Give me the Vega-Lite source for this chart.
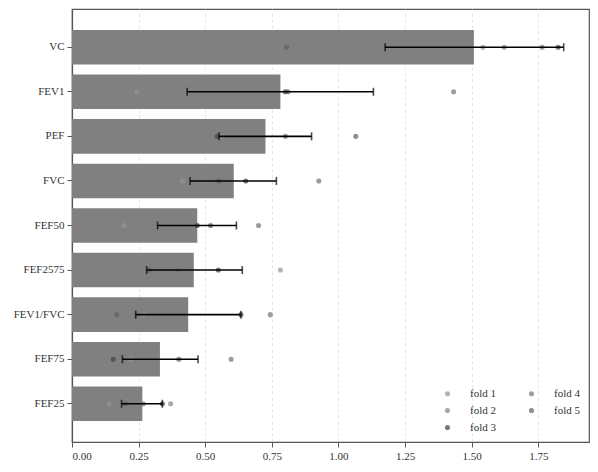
{
  "$schema": "https://vega.github.io/schema/vega-lite/v6.json",
  "width": 517,
  "height": 433,
  "autosize": "none",
  "padding": {"left": 72, "top": 9, "right": 9, "bottom": 30},
  "background": "white",
  "datasets": {
    "bars": [
      {"metric": "VC", "mean": 1.508, "lo": 1.175, "hi": 1.845},
      {"metric": "FEV1", "mean": 0.782, "lo": 0.432, "hi": 1.131},
      {"metric": "PEF", "mean": 0.726, "lo": 0.552, "hi": 0.899},
      {"metric": "FVC", "mean": 0.607, "lo": 0.443, "hi": 0.767},
      {"metric": "FEF50", "mean": 0.470, "lo": 0.321, "hi": 0.617},
      {"metric": "FEF2575", "mean": 0.457, "lo": 0.280, "hi": 0.639},
      {"metric": "FEV1/FVC", "mean": 0.436, "lo": 0.239, "hi": 0.634},
      {"metric": "FEF75", "mean": 0.330, "lo": 0.189, "hi": 0.473},
      {"metric": "FEF25", "mean": 0.264, "lo": 0.186, "hi": 0.339}
    ],
    "folds": [
      {"metric": "VC", "fold": "fold 1", "value": 1.542},
      {"metric": "VC", "fold": "fold 2", "value": 1.622},
      {"metric": "VC", "fold": "fold 3", "value": 1.824},
      {"metric": "VC", "fold": "fold 4", "value": 1.764},
      {"metric": "VC", "fold": "fold 5", "value": 0.805},
      {"metric": "FEV1", "fold": "fold 1", "value": 0.243},
      {"metric": "FEV1", "fold": "fold 2", "value": 0.63},
      {"metric": "FEV1", "fold": "fold 3", "value": 0.80},
      {"metric": "FEV1", "fold": "fold 4", "value": 1.432},
      {"metric": "FEV1", "fold": "fold 5", "value": 0.81},
      {"metric": "PEF", "fold": "fold 1", "value": 0.56},
      {"metric": "PEF", "fold": "fold 2", "value": 0.65},
      {"metric": "PEF", "fold": "fold 3", "value": 0.545},
      {"metric": "PEF", "fold": "fold 4", "value": 0.801},
      {"metric": "PEF", "fold": "fold 5", "value": 1.065},
      {"metric": "FVC", "fold": "fold 1", "value": 0.415},
      {"metric": "FVC", "fold": "fold 2", "value": 0.49},
      {"metric": "FVC", "fold": "fold 3", "value": 0.652},
      {"metric": "FVC", "fold": "fold 4", "value": 0.926},
      {"metric": "FVC", "fold": "fold 5", "value": 0.55},
      {"metric": "FEF50", "fold": "fold 1", "value": 0.195},
      {"metric": "FEF50", "fold": "fold 2", "value": 0.465},
      {"metric": "FEF50", "fold": "fold 3", "value": 0.47},
      {"metric": "FEF50", "fold": "fold 4", "value": 0.70},
      {"metric": "FEF50", "fold": "fold 5", "value": 0.52},
      {"metric": "FEF2575", "fold": "fold 1", "value": 0.782},
      {"metric": "FEF2575", "fold": "fold 2", "value": 0.267},
      {"metric": "FEF2575", "fold": "fold 3", "value": 0.549},
      {"metric": "FEF2575", "fold": "fold 4", "value": 0.40},
      {"metric": "FEF2575", "fold": "fold 5", "value": 0.29},
      {"metric": "FEV1/FVC", "fold": "fold 1", "value": 0.27},
      {"metric": "FEV1/FVC", "fold": "fold 2", "value": 0.361},
      {"metric": "FEV1/FVC", "fold": "fold 3", "value": 0.634},
      {"metric": "FEV1/FVC", "fold": "fold 4", "value": 0.744},
      {"metric": "FEV1/FVC", "fold": "fold 5", "value": 0.168},
      {"metric": "FEF75", "fold": "fold 1", "value": 0.221},
      {"metric": "FEF75", "fold": "fold 2", "value": 0.276},
      {"metric": "FEF75", "fold": "fold 3", "value": 0.155},
      {"metric": "FEF75", "fold": "fold 4", "value": 0.597},
      {"metric": "FEF75", "fold": "fold 5", "value": 0.401},
      {"metric": "FEF25", "fold": "fold 1", "value": 0.139},
      {"metric": "FEF25", "fold": "fold 2", "value": 0.37},
      {"metric": "FEF25", "fold": "fold 3", "value": 0.339},
      {"metric": "FEF25", "fold": "fold 4", "value": 0.267},
      {"metric": "FEF25", "fold": "fold 5", "value": 0.20}
    ]
  },
  "encoding": {
    "y": {
      "field": "metric",
      "type": "nominal",
      "sort": ["VC", "FEV1", "PEF", "FVC", "FEF50", "FEF2575", "FEV1/FVC", "FEF75", "FEF25"],
      "scale": {"paddingInner": 0.224, "paddingOuter": 0.47},
      "title": null,
      "axis": {"grid": false, "tickSize": 5, "labelPadding": 3}
    }
  },
  "layer": [
    {
      "data": {"name": "bars"},
      "mark": {"type": "bar", "color": "#808080"},
      "encoding": {
        "x": {
          "field": "mean",
          "type": "quantitative",
          "scale": {"domain": [0, 1.94], "nice": false},
          "title": null,
          "axis": {
            "values": [0, 0.25, 0.5, 0.75, 1.0, 1.25, 1.5, 1.75],
            "format": ".2f",
            "grid": true,
            "gridColor": "#dddddd",
            "gridDash": [3, 3],
            "gridWidth": 0.8,
            "tickSize": 5,
            "labelPadding": 3
          }
        }
      }
    },
    {
      "data": {"name": "folds"},
      "mark": {"type": "circle", "size": 26, "opacity": 0.7},
      "encoding": {
        "x": {"field": "value", "type": "quantitative"},
        "color": {
          "field": "fold",
          "type": "nominal",
          "scale": {
            "domain": ["fold 1", "fold 2", "fold 3", "fold 4", "fold 5"],
            "range": ["#949494", "#848484", "#424242", "#737373", "#5e5e5e"]
          },
          "legend": {
            "title": null,
            "orient": "bottom-right",
            "columns": 2,
            "offset": 9,
            "symbolType": "circle",
            "symbolSize": 26,
            "symbolOpacity": 0.7,
            "labelOffset": 17,
            "columnPadding": 30,
            "rowPadding": 5,
            "labelFontSize": 11,
            "labelFont": "Times New Roman, Liberation Serif, Tinos, serif",
            "labelColor": "#333333"
          }
        }
      }
    },
    {
      "data": {"name": "bars"},
      "mark": {"type": "rule", "color": "black", "strokeWidth": 1.6},
      "encoding": {
        "x": {"field": "lo", "type": "quantitative"},
        "x2": {"field": "hi"}
      }
    },
    {
      "data": {"name": "bars"},
      "mark": {"type": "tick", "color": "black", "orient": "vertical", "size": 8, "thickness": 1.6},
      "encoding": {"x": {"field": "lo", "type": "quantitative"}}
    },
    {
      "data": {"name": "bars"},
      "mark": {"type": "tick", "color": "black", "orient": "vertical", "size": 8, "thickness": 1.6},
      "encoding": {"x": {"field": "hi", "type": "quantitative"}}
    }
  ],
  "config": {
    "view": {"stroke": "#555555", "strokeWidth": 1.2},
    "font": "Times New Roman, Liberation Serif, Tinos, serif",
    "axis": {
      "labelFont": "Times New Roman, Liberation Serif, Tinos, serif",
      "labelFontSize": 11,
      "labelColor": "#333333",
      "domainColor": "#555555",
      "domainWidth": 1.2,
      "tickColor": "#555555",
      "tickWidth": 1
    }
  }
}
